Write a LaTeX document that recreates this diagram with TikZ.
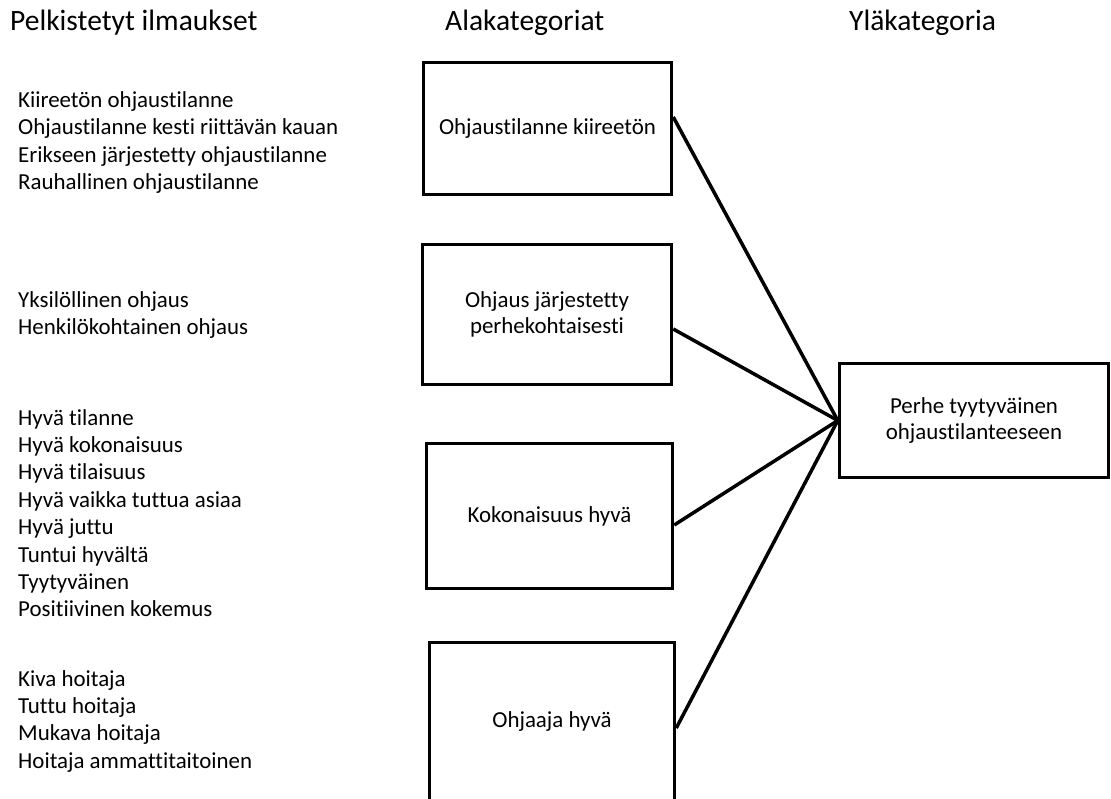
\documentclass[tikz,border=0pt]{standalone}
\usepackage{fontspec}
\setmainfont{Carlito}[Ligatures={NoCommon}]
\begin{document}
\begin{tikzpicture}[x=1pt,y=-1pt,
  header/.style={anchor=base west,inner sep=0pt,font=\fontsize{29.5}{33}\selectfont},
  item/.style={anchor=base west,inner sep=0pt,font=\fontsize{22.9}{27}\selectfont},
  catbox/.style={draw,line width=3.5pt,inner sep=0pt,align=center,font=\fontsize{22.9}{26.5}\selectfont},
  link/.style={line width=3.5pt}]
\useasboundingbox (0,0) rectangle (1111,798);
\node[header] (h1) at (10,30) {Pelkistetyt ilmaukset};
\node[header] (h2) at (445,30) {Alakategoriat};
\node[header] (h3) at (849,30) {Yläkategoria};
\foreach \t [count=\i] in {Kiireetön ohjaustilanne,Ohjaustilanne kesti riittävän kauan,Erikseen järjestetty ohjaustilanne,Rauhallinen ohjaustilanne}
  \node[item] (ga-\i) at (18,{107+27.6*(\i-1)}) {\t};
\foreach \t [count=\i] in {Yksilöllinen ohjaus,Henkilökohtainen ohjaus}
  \node[item] (gb-\i) at (18,{307+27.4*(\i-1)}) {\t};
\foreach \t [count=\i] in {Hyvä tilanne,Hyvä kokonaisuus,Hyvä tilaisuus,Hyvä vaikka tuttua asiaa,Hyvä juttu,Tuntui hyvältä,Tyytyväinen,Positiivinen kokemus}
  \node[item] (gc-\i) at (18,{425+27.4*(\i-1)}) {\t};
\foreach \t [count=\i] in {Kiva hoitaja,Tuttu hoitaja,Mukava hoitaja,Hoitaja ammattitaitoinen}
  \node[item] (gd-\i) at (18,{686+27.4*(\i-1)}) {\t};
\node[catbox,minimum width=248pt,minimum height=132pt] (b1) at (547.5,128.5) {Ohjaustilanne kiireetön};
\node[catbox,minimum width=249pt,minimum height=140pt] (b2) at (547,314.5) {Ohjaus järjestetty\\perhekohtaisesti};
\node[catbox,minimum width=246pt,minimum height=145pt] (b3) at (549.5,516) {Kokonaisuus hyvä};
\node[catbox,minimum width=245pt,minimum height=159pt] (b4) at (552,722) {Ohjaaja hyvä};
\node[catbox,minimum width=269pt,minimum height=114pt] (b5) at (974,420.5) {Perhe tyytyväinen\\ohjaustilanteeseen};
\draw[link] ([yshift=11.5pt]b1.east) -- (b5.west);
\draw[link] ([yshift=-14.5pt]b2.east) -- (b5.west);
\draw[link] ([yshift=-9pt]b3.east) -- (b5.west);
\draw[link] ([yshift=-6pt]b4.east) -- (b5.west);
\end{tikzpicture}
\end{document}
